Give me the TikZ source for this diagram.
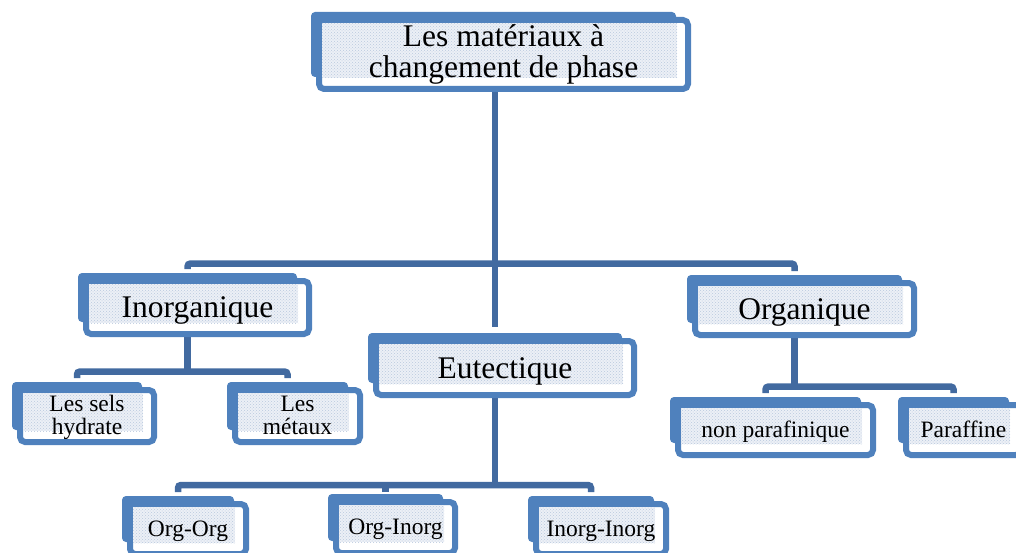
\documentclass[tikz,border=0pt]{standalone}
\usepackage{fontspec}
\setmainfont{Liberation Serif}
\usetikzlibrary{backgrounds,calc,patterns}
\definecolor{boxblue}{RGB}{79,129,189}
\definecolor{linkblue}{RGB}{66,106,160}
\definecolor{dotfill}{RGB}{236,240,246}
\definecolor{dotcolor}{RGB}{185,200,222}
\newcommand\mytwolines[2]{\vtop{\halign{\hfil##\hfil\cr#1\cr#2\cr}}}
\newcommand\bigtxt{\fontsize{31.5}{31}\selectfont}
\newcommand\smalltxt{\fontsize{23.5}{23}\selectfont}
\begin{document}
\begin{tikzpicture}[x=1pt,y=-1pt,
  tab/.style={rectangle, inner sep=0pt, outer sep=0pt, draw=none},
  bigbox/.style={tab, font=\bigtxt, text height=22pt, text depth=2pt},
  smallbox/.style={tab, font=\smalltxt, text height=16pt, text depth=2pt},
  conn/.style={draw=linkblue, line width=6.5pt},
  hook/.style={conn, rounded corners=3pt},
  backshape/.style={fill=boxblue, rounded corners=4pt},
  frontshape/.style={draw=boxblue, line width=6pt, fill=white, rounded corners=5pt},
  dotshape/.style={fill=dotfill, postaction={pattern=crosshatch dots, pattern color=dotcolor}}
]
\useasboundingbox (0,0) rectangle (1016,553);

\node[bigbox, minimum width=369pt, minimum height=69pt, text height=22pt, text depth=37pt] (top) at (503.5,54.5) {\mytwolines{Les matériaux à}{changement de phase}};
\node[bigbox, minimum width=223pt, minimum height=53pt] (inorg) at (197.5,307.5) {Inorganique};
\node[bigbox, minimum width=258pt, minimum height=54pt] (eut) at (505,368) {Eutectique};
\node[bigbox, minimum width=219pt, minimum height=52pt] (org) at (804.5,309) {Organique};
\node[smallbox, minimum width=134pt, minimum height=52pt, text height=17pt, text depth=27pt] (sels) at (87,416) {\mytwolines{Les sels}{hydrate}};
\node[smallbox, minimum width=125pt, minimum height=52pt, text height=17pt, text depth=27pt] (metaux) at (297.5,416) {\mytwolines{Les}{métaux}};
\node[smallbox, minimum width=195pt, minimum height=50pt] (nonpara) at (775.5,430) {non parafinique};
\node[smallbox, minimum width=115pt, minimum height=50pt] (paraf) at (963.5,430) {Paraffine};
\node[smallbox, minimum width=116pt, minimum height=50pt] (orgorg) at (188,529) {Org-Org};
\node[smallbox, minimum width=119pt, minimum height=51pt] (orginorg) at (395.5,527.5) {Org-Inorg};
\node[smallbox, minimum width=130pt, minimum height=50pt] (inorginorg) at (601,529) {Inorg-Inorg};

\coordinate (j0) at (495,263.5);
\coordinate (j1) at (187.5,371.5);
\coordinate (j2) at (794.5,386.5);
\coordinate (j3) at (495,485);

\begin{scope}[on background layer]
  % connectors
  \draw[conn] ([shift={(-8.5,0)}]top.south) -- (j0);
  \draw[hook] ([shift={(-10,-12)}]inorg.north) |- (j0) -| ([shift={(-10,-12)}]org.north);
  \draw[conn] (j0) -- ([shift={(-10,-14)}]eut.north);
  \draw[conn] ([shift={(-10,0)}]inorg.south) -- (j1);
  \draw[hook] ([shift={(-10,-12)}]sels.north) |- (j1) -| ([shift={(-10,-12)}]metaux.north);
  \draw[conn] ([shift={(-10,0)}]org.south) -- (j2);
  \draw[hook] ([shift={(-10,-12)}]nonpara.north) |- (j2) -| ([shift={(-10,-12)}]paraf.north);
  \draw[conn] ([shift={(-10,0)}]eut.south) -- (j3);
  \draw[hook] ([shift={(-10,-12)}]orgorg.north) |- (j3) -| ([shift={(-10,-12)}]inorginorg.north);
  \draw[conn] ([shift={(-10,-10)}]orginorg.north) |- (j3);
  % boxes
  \foreach \n in {top,inorg,eut,org,sels,metaux,nonpara,paraf,orgorg,orginorg,inorginorg}{
    \fill[backshape] ([shift={(-8,-8)}]\n.north west) rectangle ([shift={(-12,-12)}]\n.south east);
    \path[frontshape] (\n.north west) rectangle (\n.south east);
    \path[dotshape] ([shift={(3,3)}]\n.north west) rectangle ([shift={(-11,-11)}]\n.south east);
  }
\end{scope}
\end{tikzpicture}
\end{document}
